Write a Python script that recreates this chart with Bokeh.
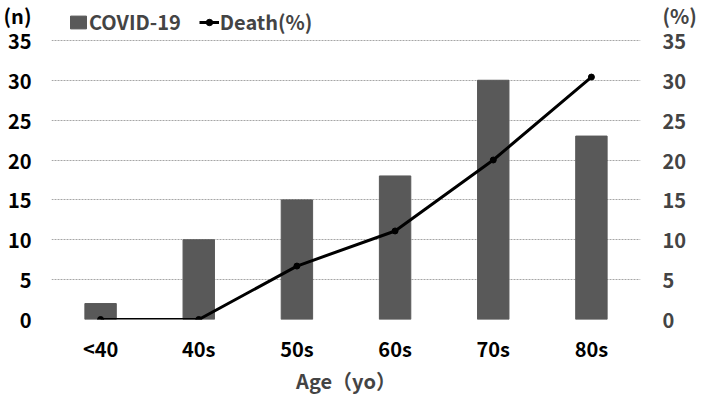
from bokeh.plotting import figure
from bokeh.models import (FactorRange, Range1d, LinearAxis, Legend, LegendItem,
                          FixedTicker, ColumnDataSource)
from bokeh.embed import file_html
from bokeh.resources import INLINE

categories = ["<40", "40s", "50s", "60s", "70s", "80s"]
covid_counts = [2, 10, 15, 18, 30, 23]
death_pct = [0, 0, 6.7, 11.1, 20, 30.4]
y_ticks = [0, 5, 10, 15, 20, 25, 30, 35]
unit_tick = 38.8

FONT = "Noto Sans CJK JP"
FS = "20px"
STYLE = "bold"
Y_TOP = 40.0

src = ColumnDataSource(dict(cat=categories, n=covid_counts, d=death_pct))

p = figure(title=None, frame_width=589, frame_height=319,
           x_range=FactorRange(*categories, range_padding=0),
           y_range=Range1d(0, Y_TOP), output_backend="svg", toolbar_location=None,
           min_border_left=0, min_border_right=0, min_border_top=0, min_border_bottom=0)
p.outline_line_color = None
p.extra_y_ranges = {"pct": Range1d(0, Y_TOP)}

bars = p.vbar(x="cat", top="n", width=0.32, source=src, color="#595959")
line = p.line(x="cat", y="d", source=src, line_color="black", line_width=3, y_range_name="pct")
pts = p.scatter(x="cat", y="d", source=src, size=6, color="black", y_range_name="pct")

for ax in [p.yaxis[0], p.xaxis[0]]:
    ax.axis_line_color = None
    ax.major_tick_line_color = None
    ax.minor_tick_line_color = None
    ax.major_label_text_font = FONT
    ax.major_label_text_font_size = FS
    ax.major_label_text_font_style = STYLE
    ax.major_label_text_color = "black"

p.yaxis[0].ticker = FixedTicker(ticks=y_ticks + [unit_tick])
p.yaxis[0].major_label_overrides = {unit_tick: "(n)"}
p.yaxis[0].major_label_standoff = 14

p.xaxis[0].major_label_standoff = 8
p.xaxis[0].axis_label = "Age（yo）"
p.xaxis[0].axis_label_text_font = FONT
p.xaxis[0].axis_label_text_font_size = FS
p.xaxis[0].axis_label_text_font_style = STYLE
p.xaxis[0].axis_label_standoff = 0

ra = LinearAxis(y_range_name="pct", ticker=FixedTicker(ticks=y_ticks + [unit_tick]))
ra.major_label_overrides = {unit_tick: "(%)"}
ra.axis_line_color = None
ra.major_tick_line_color = None
ra.minor_tick_line_color = None
ra.major_label_text_font = FONT
ra.major_label_text_font_size = FS
ra.major_label_text_font_style = STYLE
ra.major_label_standoff = 16
ra.major_label_text_align = "left"
p.add_layout(ra, "right")

p.xgrid.grid_line_color = None
p.ygrid.ticker = FixedTicker(ticks=y_ticks)
p.ygrid.grid_line_color = "#a6a6a6"
p.ygrid.grid_line_dash = "2 1"
p.ygrid.grid_line_width = 1

legend = Legend(items=[LegendItem(label="COVID-19", renderers=[bars]),
                       LegendItem(label="Death(%)", renderers=[line, pts])],
                orientation="horizontal", location=(17, 283),
                label_text_font=FONT, label_text_font_size=FS, label_text_font_style=STYLE,
                background_fill_alpha=0, border_line_color=None,
                glyph_width=20, glyph_height=16, spacing=18, padding=0, margin=0,
                label_standoff=1)
p.add_layout(legend, "center")

open("out.html", "w").write(file_html(p, INLINE))
